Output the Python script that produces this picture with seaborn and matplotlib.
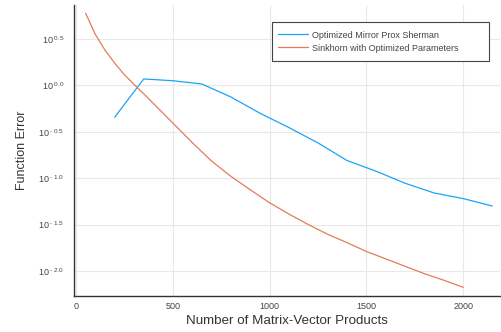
import numpy as np
import pandas as pd
import matplotlib
matplotlib.use("Agg")
import matplotlib.pyplot as plt
from matplotlib.patches import Rectangle
import seaborn as sns

# Data (log10 of function error)
mp_x = [200, 350, 500, 650, 800, 950, 1100, 1250, 1400, 1550, 1700, 1850, 2000, 2150]
mp_log = [-0.344, 0.069, 0.05, 0.015, -0.125, -0.30, -0.455, -0.62, -0.81, -0.925,
          -1.055, -1.16, -1.22, -1.30]
sk_x = [50, 100, 150, 200, 250, 300, 350, 400, 450, 500, 600, 700, 800, 900, 1000,
        1100, 1200, 1300, 1400, 1500, 1600, 1700, 1800, 1900, 2000]
sk_log = [0.777, 0.55, 0.38, 0.24, 0.115, 0.01, -0.09, -0.195, -0.30, -0.405, -0.615,
          -0.815, -0.98, -1.125, -1.265, -1.387, -1.50, -1.605, -1.695, -1.79, -1.87,
          -1.95, -2.03, -2.10, -2.176]
series_names = ["Optimized Mirror Prox Sherman", "Sinkhorn with Optimized Parameters"]
ytick_exp = [0.5, 0.0, -0.5, -1.0, -1.5, -2.0]
xticks = [0, 500, 1000, 1500, 2000]

df = pd.DataFrame({
    "x": mp_x + sk_x,
    "y": list(10 ** np.array(mp_log)) + list(10 ** np.array(sk_log)),
    "series": [series_names[0]] * len(mp_x) + [series_names[1]] * len(sk_x),
})

sns.set_style("white")
plt.rcParams["font.family"] = ["Liberation Sans", "DejaVu Sans"]
plt.rcParams["mathtext.fontset"] = "custom"
plt.rcParams["mathtext.rm"] = "Liberation Sans"
plt.rcParams["mathtext.it"] = "Liberation Sans"
plt.rcParams["axes.unicode_minus"] = False

fig = plt.figure(figsize=(5.02, 3.32), dpi=100)
ax = fig.add_axes([74 / 502, 1 - 296 / 332, 426 / 502, 291 / 332])

sns.lineplot(data=df, x="x", y="y", hue="series", palette=["#1ba3fa", "#e47b58"],
             ax=ax, linewidth=0.9, sort=False, estimator=None)

ax.set_yscale("log")
ax.set_ylim(10 ** -2.27, 10 ** 0.866)
ax.set_xlim(-10, 2190)
ax.set_yticks([10 ** e for e in ytick_exp])


def fmt(e):
    s = ("- %.1f" % -e) if e < 0 else ("%.1f" % e)
    return r"$10^{\text{ %s}}$" % s


ax.set_yticklabels([fmt(e) for e in ytick_exp])
ax.yaxis.set_minor_locator(matplotlib.ticker.NullLocator())
ax.set_xticks(xticks)
ax.set_xticklabels([str(t) for t in xticks])

ax.grid(True, color="#e8e8e8", linewidth=0.8)
for s in ["top", "right"]:
    ax.spines[s].set_visible(False)
for s in ["left", "bottom"]:
    ax.spines[s].set_color("#333333")
    ax.spines[s].set_linewidth(1.0)
ax.tick_params(axis="both", direction="in", length=3, width=0.8, color="#333333",
               labelsize=6.5, labelcolor="#444444")
ax.tick_params(axis="y", pad=7)
ax.tick_params(axis="x", pad=4)

ax.set_xlabel("Number of Matrix-Vector Products", fontsize=9.6, color="#333333", labelpad=3)
ax.set_ylabel("Function Error", fontsize=9.0, color="#333333", labelpad=7)

# legend frame (wider than content, as in the reference)
frame = Rectangle((272 / 502, 1 - 61 / 332), 217 / 502, 39 / 332,
                  transform=fig.transFigure, facecolor="white",
                  edgecolor="#444444", linewidth=0.8, zorder=5, clip_on=False)
ax.add_patch(frame)
leg = ax.legend(loc="upper left", bbox_to_anchor=(272 / 502, 1 - 24.5 / 332),
                bbox_transform=fig.transFigure, borderaxespad=0, fontsize=6.5,
                frameon=False, handlelength=3.3, borderpad=0.67, labelspacing=0.45,
                handletextpad=0.45)
leg.set_zorder(6)
for t in leg.get_texts():
    t.set_color("#444444")

fig.savefig("out.png", dpi=100)
